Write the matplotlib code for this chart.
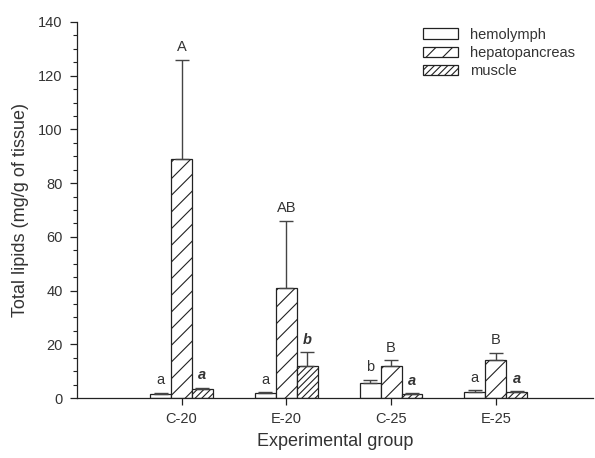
import numpy as np
import matplotlib.pyplot as plt

plt.rcParams['font.family'] = ['Liberation Sans', 'DejaVu Sans']
plt.rcParams['hatch.linewidth'] = 0.8

groups = ['C-20', 'E-20', 'C-25', 'E-25']
tissues = ['hemolymph', 'hepatopancreas', 'muscle']
hemolymph = [1.5, 1.7, 5.6, 2.1]
hemolymph_err = [0.4, 0.4, 1.1, 0.7]
hepatopancreas = [89.0, 41.0, 12.0, 14.2]
hepatopancreas_err = [37.0, 25.0, 2.0, 2.6]
muscle = [3.4, 11.8, 1.5, 2.2]
muscle_err = [0.5, 5.2, 0.3, 0.3]
hemo_letters = ['a', 'a', 'b', 'a']
hepato_letters = ['A', 'AB', 'B', 'B']
muscle_letters = ['a', 'b', 'a', 'a']

txt = '#333333'
edge = '#222222'
fig = plt.figure(figsize=(5.95, 4.58), dpi=100)
ax = fig.add_axes([0.129, 0.131, 0.868, 0.821])

x = np.arange(1, len(groups) + 1)
w = 0.2
series = [
    (hemolymph, hemolymph_err, hemo_letters, '', {}),
    (hepatopancreas, hepatopancreas_err, hepato_letters, '//', {}),
    (muscle, muscle_err, muscle_letters, '/////', {'fontweight': 'bold', 'fontstyle': 'italic'}),
]
for i, (vals, errs, letters, hatch, fstyle) in enumerate(series):
    pos = x + (i - 1) * w
    ax.bar(pos, vals, width=w, color='white', edgecolor=edge, linewidth=0.9,
           hatch=hatch, label=tissues[i], zorder=2)
    ax.errorbar(pos, vals, yerr=[np.zeros(len(vals)), errs], fmt='none',
                ecolor='#444444', elinewidth=1.0, capsize=5, capthick=1.0, zorder=3)
    for p, v, e, l in zip(pos, vals, errs, letters):
        ax.annotate(l, (p, v + e), xytext=(0, 4), textcoords='offset points',
                    ha='center', va='bottom', fontsize=10.5, color=txt, **fstyle)

ax.set_xlim(0, 4.93)
ax.set_ylim(0, 140)
ax.set_yticks(np.arange(0, 141, 20))
ax.set_yticks(np.arange(0, 141, 5), minor=True)
ax.set_xticks(x)
ax.set_xticklabels(groups)
for s in ['top', 'right']:
    ax.spines[s].set_visible(False)
for s in ['left', 'bottom']:
    ax.spines[s].set_color(edge)
    ax.spines[s].set_linewidth(0.9)
ax.tick_params(axis='both', which='major', direction='out', length=5, width=0.9,
               colors=edge, labelcolor=txt, labelsize=10.5, pad=5)
ax.tick_params(axis='y', which='minor', direction='out', length=3, width=0.8, colors=edge)
ax.tick_params(axis='x', which='minor', bottom=False)
ax.set_xlabel('Experimental group', fontsize=13, color=txt, labelpad=5)
ax.set_ylabel('Total lipids (mg/g of tissue)', fontsize=13, color=txt, labelpad=7)

leg = ax.legend(loc='upper right', bbox_to_anchor=(0.99, 1.02), frameon=False,
                fontsize=10.5, handlelength=2.4, handleheight=0.7,
                labelspacing=0.3, handletextpad=0.8)
for t in leg.get_texts():
    t.set_color(txt)

fig.savefig('out.png', dpi=100)
